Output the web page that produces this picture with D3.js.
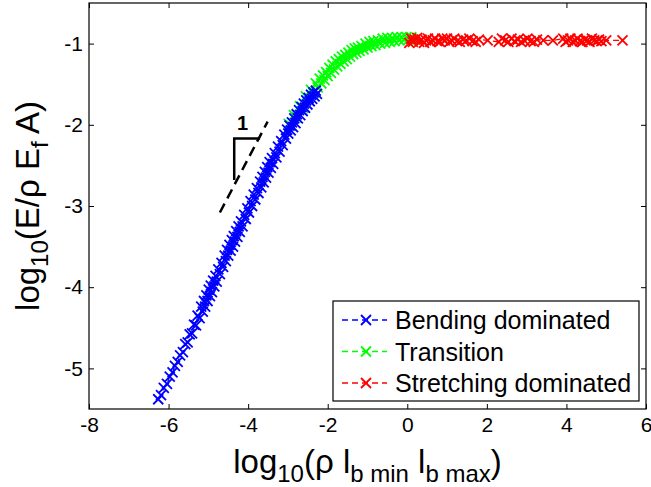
<!DOCTYPE html>
<html>
<head>
<meta charset="utf-8">
<script src="https://cdn.jsdelivr.net/npm/d3@7"></script>
<style>
  html, body { margin: 0; padding: 0; background: #fff; }
  svg { display: block; font-family: "Liberation Sans", Arial, Helvetica, sans-serif; }
</style>
</head>
<body>
<svg id="chart" width="651" height="487"></svg>
<script>
// log10 normalised density vs log10 normalised stiffness, three regimes

const bendingX = [-6.26, -6.19, -6.12, -6.04, -5.97, -5.90, -5.84, -5.77, -5.71, -5.64, -5.58, -5.52, -5.47, -5.41, -5.36, -5.31, -5.27, -5.22, -5.18, -5.14, -5.11, -5.08, -5.05, -5.02, -4.99, -4.96, -4.94, -4.91, -4.88, -4.85, -4.82, -4.79, -4.75, -4.71, -4.67, -4.63, -4.59, -4.56, -4.53, -4.50, -4.47, -4.44, -4.41, -4.38, -4.36, -4.33, -4.30, -4.27, -4.24, -4.21, -4.18, -4.14, -4.10, -4.06, -4.02, -3.98, -3.94, -3.90, -3.86, -3.82, -3.78, -3.74, -3.70, -3.67, -3.64, -3.61, -3.58, -3.55, -3.52, -3.49, -3.46, -3.43, -3.40, -3.37, -3.33, -3.29, -3.25, -3.21, -3.17, -3.13, -3.09, -3.05, -3.02, -2.99, -2.96, -2.93, -2.90, -2.87, -2.84, -2.81, -2.78, -2.75, -2.72, -2.69, -2.66, -2.63, -2.60, -2.57, -2.54, -2.51, -2.48, -2.45, -2.42, -2.39, -2.36, -2.33, -2.30, -2.27];
const bendingY = [-5.38, -5.33, -5.24, -5.19, -5.10, -5.05, -4.97, -4.92, -4.84, -4.80, -4.70, -4.68, -4.58, -4.57, -4.46, -4.47, -4.35, -4.38, -4.24, -4.30, -4.17, -4.24, -4.10, -4.17, -4.03, -4.11, -3.98, -4.06, -3.92, -3.99, -3.86, -3.93, -3.78, -3.84, -3.70, -3.75, -3.61, -3.68, -3.54, -3.61, -3.48, -3.55, -3.42, -3.50, -3.37, -3.44, -3.31, -3.38, -3.25, -3.32, -3.19, -3.25, -3.11, -3.16, -3.03, -3.08, -2.94, -3.00, -2.86, -2.92, -2.78, -2.84, -2.70, -2.77, -2.64, -2.71, -2.58, -2.65, -2.52, -2.59, -2.46, -2.53, -2.41, -2.48, -2.35, -2.40, -2.27, -2.33, -2.20, -2.25, -2.12, -2.17, -2.06, -2.11, -2.01, -2.07, -1.97, -2.03, -1.92, -1.98, -1.87, -1.92, -1.82, -1.88, -1.78, -1.83, -1.74, -1.79, -1.70, -1.75, -1.67, -1.71, -1.63, -1.68, -1.60, -1.65, -1.58, -1.62];

const transitionX = [-2.98, -2.92, -2.85, -2.78, -2.70, -2.62, -2.55, -2.48, -2.42, -2.36, -2.30, -2.25, -2.20, -2.16, -2.12, -2.08, -2.04, -2.00, -1.96, -1.92, -1.88, -1.84, -1.80, -1.76, -1.72, -1.68, -1.64, -1.60, -1.56, -1.52, -1.48, -1.44, -1.40, -1.36, -1.32, -1.28, -1.24, -1.20, -1.15, -1.10, -1.05, -1.00, -0.95, -0.90, -0.85, -0.80, -0.74, -0.68, -0.62, -0.56, -0.50, -0.44, -0.38, -0.32, -0.26, -0.20, -0.14, -0.08, -0.02, 0.04, 0.10, 0.15];
const transitionY = [-1.99, -2.01, -1.88, -1.91, -1.77, -1.79, -1.65, -1.68, -1.57, -1.61, -1.49, -1.54, -1.43, -1.49, -1.39, -1.45, -1.35, -1.40, -1.30, -1.36, -1.26, -1.32, -1.22, -1.28, -1.19, -1.25, -1.16, -1.22, -1.14, -1.19, -1.11, -1.16, -1.08, -1.13, -1.06, -1.11, -1.05, -1.09, -1.03, -1.07, -1.00, -1.05, -0.98, -1.03, -0.97, -1.02, -0.96, -1.00, -0.94, -0.99, -0.93, -0.98, -0.93, -0.97, -0.92, -0.96, -0.92, -0.95, -0.92, -0.95, -0.92, -0.95];

const stretchingX = [0.05, 0.10, 0.14, 0.19, 0.25, 0.30, 0.36, 0.42, 0.47, 0.52, 0.58, 0.64, 0.70, 0.76, 0.82, 0.88, 0.94, 1.00, 1.06, 1.12, 1.18, 1.25, 1.32, 1.40, 1.48, 1.56, 1.64, 1.72, 1.80, 2.02, 2.30, 2.38, 2.46, 2.54, 2.62, 2.70, 2.78, 2.86, 2.94, 3.02, 3.10, 3.18, 3.26, 3.42, 3.66, 3.92, 3.98, 4.04, 4.10, 4.16, 4.22, 4.28, 4.34, 4.40, 4.46, 4.52, 4.58, 4.64, 4.70, 4.76, 4.82, 4.88, 5.00, 5.41];
const stretchingY = [-0.99, -0.94, -0.98, -0.95, -0.93, -0.98, -0.95, -0.99, -0.96, -0.94, -0.98, -0.96, -0.94, -0.97, -0.98, -0.94, -0.96, -0.94, -0.98, -0.96, -0.94, -0.97, -0.98, -0.95, -0.96, -0.94, -0.97, -0.98, -0.95, -0.96, -0.98, -0.94, -0.96, -0.98, -0.94, -0.97, -0.95, -0.98, -0.96, -0.94, -0.97, -0.98, -0.95, -0.96, -0.96, -0.94, -0.98, -0.96, -0.94, -0.98, -0.96, -0.94, -0.97, -0.98, -0.95, -0.96, -0.98, -0.94, -0.96, -0.97, -0.95, -0.97, -0.96, -0.96];

const seriesNames = ["Bending dominated", "Transition", "Stretching dominated"];
const seriesColors = ["#0000ff", "#00ff00", "#ff0000"];
// stacking order of the series on the plot (bending sits over transition)
const drawOrder = [1, 0, 2];

const xTicks = [-8, -6, -4, -2, 0, 2, 4, 6];
const yTicks = [-5, -4, -3, -2, -1];

// slope guide: dashed reference line and right-angle marker
const guideLineX = [-4.71, -3.51];
const guideLineY = [-3.08, -1.96];
const guideCornerX = [-4.35, -4.35, -3.70];
const guideCornerY = [-2.68, -2.17, -2.17];
const guideLabel = { text: "1", x: -4.14, y: -1.98 };

const series = seriesNames.map((name, i) => ({
  name,
  color: seriesColors[i],
  points: [bendingX, transitionX, stretchingX][i].map((x, j) => ({ x, y: [bendingY, transitionY, stretchingY][i][j] }))
}));

const svg = d3.select("#chart");
const plot = { left: 89, right: 646, top: 3, bottom: 409 };

const x = d3.scaleLinear().domain([-8, 6]).range([plot.left, plot.right]);
const y = d3.scaleLinear().domain([-5.5, -0.5]).range([plot.bottom, plot.top]);

const tickLen = 5;

// axes with inward ticks on all four sides
const axisBottom = d3.axisBottom(x).tickValues(xTicks).tickSizeInner(-tickLen).tickSizeOuter(0).tickPadding(8).tickFormat(d => d);
const axisTop = d3.axisTop(x).tickValues(xTicks).tickSizeInner(-tickLen).tickSizeOuter(0).tickFormat("");
const axisLeft = d3.axisLeft(y).tickValues(yTicks).tickSizeInner(-tickLen).tickSizeOuter(0).tickPadding(6).tickFormat(d => d);
const axisRight = d3.axisRight(y).tickValues(yTicks).tickSizeInner(-tickLen).tickSizeOuter(0).tickFormat("");

function styleAxis(g) {
  g.select(".domain").remove();
  g.selectAll(".tick line").attr("stroke", "#000").attr("stroke-width", 1);
  g.selectAll(".tick text").attr("fill", "#000").attr("font-size", 21)
    .attr("font-family", "'Liberation Sans', Arial, sans-serif");
}

svg.append("g").attr("transform", `translate(0,${plot.bottom})`).call(axisBottom).call(styleAxis);
svg.append("g").attr("transform", `translate(0,${plot.top})`).call(axisTop).call(styleAxis);
svg.append("g").attr("transform", `translate(${plot.left},0)`).call(axisLeft).call(styleAxis);
svg.append("g").attr("transform", `translate(${plot.right},0)`).call(axisRight).call(styleAxis);

svg.append("rect")
  .attr("x", plot.left).attr("y", plot.top)
  .attr("width", plot.right - plot.left).attr("height", plot.bottom - plot.top)
  .attr("fill", "none").attr("stroke", "#000").attr("stroke-width", 1.2);

// data series
const line = d3.line().x(d => x(d.x)).y(d => y(d.y));
const m = 5;
const crossPath = `M${-m},${-m}L${m},${m}M${-m},${m}L${m},${-m}`;

const dataG = svg.append("g");
drawOrder.map(i => series[i]).forEach(s => {
  const g = dataG.append("g");
  g.append("path").datum(s.points)
    .attr("d", line).attr("fill", "none")
    .attr("stroke", s.color).attr("stroke-width", 1.3).attr("stroke-dasharray", "6,4");
  g.selectAll("path.mk").data(s.points).join("path")
    .attr("class", "mk")
    .attr("transform", d => `translate(${x(d.x)},${y(d.y)})`)
    .attr("d", crossPath)
    .attr("stroke", s.color).attr("stroke-width", 1.8).attr("fill", "none");
});

// slope guide
svg.append("line")
  .attr("x1", x(guideLineX[0])).attr("y1", y(guideLineY[0]))
  .attr("x2", x(guideLineX[1])).attr("y2", y(guideLineY[1]))
  .attr("stroke", "#000").attr("stroke-width", 2.5).attr("stroke-dasharray", "10,6");
svg.append("path")
  .datum(guideCornerX.map((gx, i) => ({ x: gx, y: guideCornerY[i] })))
  .attr("d", line).attr("fill", "none").attr("stroke", "#000").attr("stroke-width", 2.5);
svg.append("text")
  .attr("x", x(guideLabel.x)).attr("y", y(guideLabel.y))
  .attr("text-anchor", "middle").attr("dominant-baseline", "central")
  .attr("font-size", 20).attr("font-weight", "bold")
  .text(guideLabel.text);

// axis titles
const xTitle = svg.append("text")
  .attr("x", (plot.left + plot.right) / 2).attr("y", 473)
  .attr("text-anchor", "middle").attr("font-size", 33);
xTitle.append("tspan").text("log");
xTitle.append("tspan").attr("font-size", 24).attr("dy", 9).text("10");
xTitle.append("tspan").attr("dy", -9).text("(ρ l");
xTitle.append("tspan").attr("font-size", 24).attr("dy", 9).text("b min");
xTitle.append("tspan").attr("dy", -9).text(" l");
xTitle.append("tspan").attr("font-size", 24).attr("dy", 9).text("b max");
xTitle.append("tspan").attr("dy", -9).text(")");

const yTitle = svg.append("text")
  .attr("transform", `translate(39,${(plot.top + plot.bottom) / 2}) rotate(-90)`)
  .attr("text-anchor", "middle").attr("font-size", 33);
yTitle.append("tspan").text("log");
yTitle.append("tspan").attr("font-size", 24).attr("dy", 9).text("10");
yTitle.append("tspan").attr("dy", -9).text("(E/ρ E");
yTitle.append("tspan").attr("font-size", 24).attr("dy", 9).text("f");
yTitle.append("tspan").attr("dy", -9).text(" A)");

// legend
const legend = { x: 333, y: 301, w: 306, h: 100 };
const lg = svg.append("g");
lg.append("rect")
  .attr("x", legend.x).attr("y", legend.y).attr("width", legend.w).attr("height", legend.h)
  .attr("fill", "#fff").attr("stroke", "#000").attr("stroke-width", 1.2);
series.forEach((s, i) => {
  const cy = legend.y + 19 + i * 31.5;
  lg.append("line")
    .attr("x1", legend.x + 9).attr("x2", legend.x + 54).attr("y1", cy).attr("y2", cy)
    .attr("stroke", s.color).attr("stroke-width", 1.3).attr("stroke-dasharray", "6,4");
  lg.append("path")
    .attr("transform", `translate(${legend.x + 33},${cy})`)
    .attr("d", crossPath).attr("stroke", s.color).attr("stroke-width", 1.8).attr("fill", "none");
  lg.append("text")
    .attr("x", legend.x + 62).attr("y", cy)
    .attr("dominant-baseline", "central").attr("font-size", 25)
    .text(s.name);
});
</script>
</body>
</html>
